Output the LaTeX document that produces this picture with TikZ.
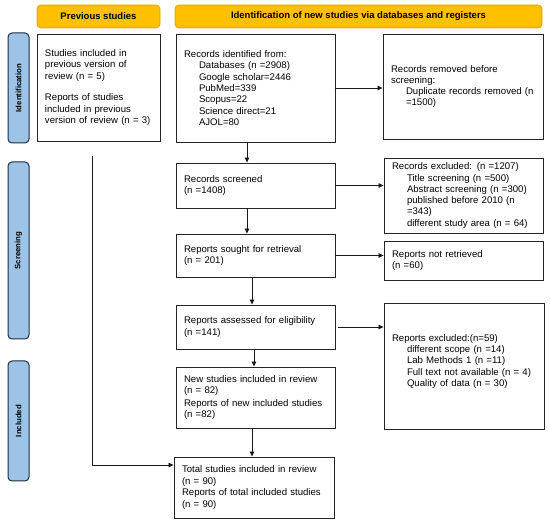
\documentclass[tikz,border=0pt]{standalone}
\usepackage{fontspec}
\setmainfont{Liberation Sans}
\usetikzlibrary{arrows.meta,positioning}
\definecolor{hdrfill}{HTML}{FFC000}
\definecolor{hdrdraw}{HTML}{D9A300}
\definecolor{bandfill}{HTML}{9DC3E6}
\definecolor{banddraw}{HTML}{1F2D3D}
\begin{document}
\begin{tikzpicture}[x=1pt,y=-1pt,
  box/.style={draw=black!85, line width=0.9pt, fill=white, align=left, inner sep=0pt,
    font=\fontsize{9.6}{11.3}\selectfont},
  hdr/.style={draw=hdrdraw, fill=hdrfill, rounded corners=4pt, line width=0.8pt,
    font=\bfseries\fontsize{9.5}{11}\selectfont, inner sep=0pt},
  band/.style={draw=banddraw, fill=bandfill, rounded corners=4pt, line width=1pt,
    minimum width=21pt, inner sep=0pt, font=\bfseries\fontsize{7.8}{9}\selectfont},
  arr/.style={-{Triangle[length=5pt,width=4.5pt]}, line width=0.8pt, draw=black!90}]
\useasboundingbox (0,0) rectangle (550,524);
\newcommand{\ind}{\hspace*{15pt}}

% headers
\node[hdr, minimum width=123pt, minimum height=23pt] (hprev) at (98.5,16.5) {Previous studies};
\node[hdr, minimum width=367pt, minimum height=23pt] (hnew) at (358.5,16.5) {Identification of new studies via databases and registers};

% bands
\node[band, minimum height=110pt] (bid) at (18.5,88) {\rotatebox{90}{Identification}};
\node[band, minimum height=177pt] (bsc) at (18.5,250.5) {\rotatebox{90}{Screening}};
\node[band, minimum height=120pt] (bin) at (18.5,421) {\rotatebox{90}{Included}};

% boxes
\node[box, minimum width=123pt, minimum height=107pt, text width=107pt] (prev) at (98.5,87.5)
  {Studies included in\\previous version of\\review (n = 5)\\[10.5pt]Reports of studies\\included in previous\\version of review (n = 3)};
\node[box, minimum width=159pt, minimum height=108pt, text width=143pt] (ident) at (255.5,88)
  {Records identified from:\\\ind Databases (n =2908)\\\ind Google scholar=2446\\\ind PubMed=339\\\ind Scopus=22\\\ind Science direct=21\\\ind AJOL=80};
\node[box, minimum width=160pt, minimum height=105pt, text width=144pt] (removed) at (463,86.5)
  {Records removed before\\screening:\\\ind Duplicate records removed (n\\\ind =1500)};
\node[box, minimum width=159pt, minimum height=45pt, text width=143pt] (screened) at (255.5,185.5)
  {Records screened\\(n =1408)};
\node[box, minimum width=159pt, minimum height=75pt, text width=143pt] (excluded) at (463.5,195.5)
  {Records excluded: (n =1207)\\\ind Title screening (n =500)\\\ind Abstract screening (n =300)\\\ind published before 2010 (n\\\ind =343)\\\ind different study area (n = 64)};
\node[box, minimum width=159pt, minimum height=43pt, text width=143pt] (sought) at (255.5,255.5)
  {Reports sought for retrieval\\(n = 201)};
\node[box, minimum width=159pt, minimum height=39pt, text width=143pt] (notret) at (463.5,260.5)
  {Reports not retrieved\\(n =60)};
\node[box, minimum width=159pt, minimum height=44pt, text width=143pt] (assessed) at (255.5,327)
  {Reports assessed for eligibility\\(n =141)};
\node[box, minimum width=160pt, minimum height=126pt, text width=144pt] (repexcl) at (464,366)
  {Reports excluded:(n=59)\\\ind different scope (n =14)\\\ind Lab Methods 1 (n =11)\\\ind Full text not available (n = 4)\\\ind Quality of data (n = 30)\\\mbox{}};
\node[box, minimum width=159pt, minimum height=61pt, text width=143pt] (new) at (255.5,397.5)
  {New studies included in review\\(n = 82)\\[1.5pt]Reports of new included studies\\(n =82)};
\node[box, minimum width=160pt, minimum height=61pt, text width=144pt] (total) at (254,487.5)
  {Total studies included in review\\(n = 90)\\[0.5pt]Reports of total included studies\\(n = 90)};

% connectors
\draw[arr] (ident.east) -- (ident.east -| removed.west);
\draw[arr] ([xshift=-8.5pt]ident.south) -- ([xshift=-8.5pt]ident.south |- screened.north);
\draw[arr] (screened.east) -- (screened.east -| excluded.west);
\draw[arr] ([xshift=-8.5pt]screened.south) -- ([xshift=-8.5pt]screened.south |- sought.north);
\draw[arr] (sought.east) -- (sought.east -| notret.west);
\draw[arr] ([xshift=-3.5pt]sought.south) -- ([xshift=-3.5pt]sought.south |- assessed.north);
\draw[arr] ([xshift=3pt]assessed.east) -- (assessed.east -| repexcl.west);
\draw[arr] ([xshift=-1.5pt]assessed.south) -- ([xshift=-1.5pt]assessed.south |- new.north);
\draw[arr] ([xshift=-3.5pt]new.south) -- ([xshift=-3.5pt]new.south |- total.north);
\coordinate (ltop) at (92,156);
\coordinate (lbot) at (92,465);
\draw[arr] (ltop) -- (lbot) -- (lbot -| total.west);
\end{tikzpicture}
\end{document}
